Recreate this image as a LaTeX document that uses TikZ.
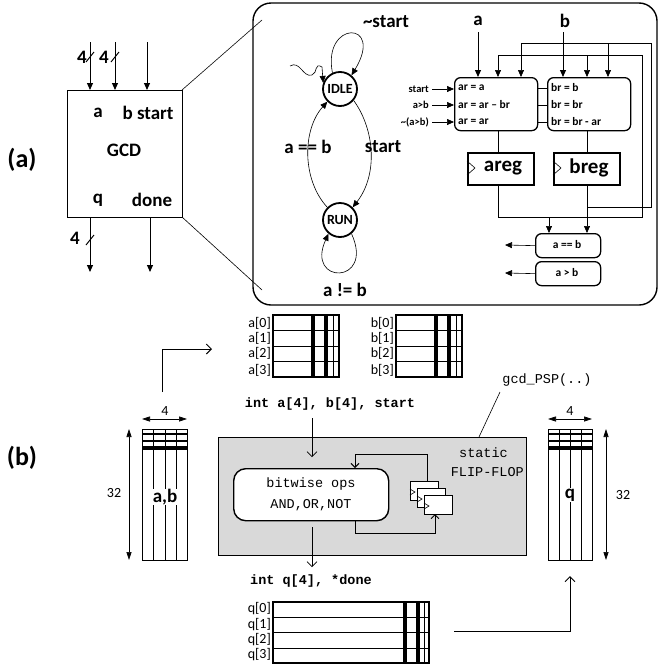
\documentclass[tikz,border=0pt]{standalone}
\usepackage{fontspec}
\setmainfont{Carlito}
\newfontfamily\codef{Liberation Mono}
\usetikzlibrary{arrows.meta}
\begin{document}
\begin{tikzpicture}[x=1pt,y=-1pt,>={Triangle[length=7pt,width=6pt]},
  lbl/.style={font=\bfseries\fontsize{19}{19}\selectfont,inner sep=0},
  sm/.style={font=\bfseries\fontsize{11.5}{12}\selectfont,inner sep=0},
  code/.style={font=\codef\bfseries\fontsize{13.5}{13.5}\selectfont,inner sep=0},
  codel/.style={font=\codef\fontsize{13.5}{13.5}\selectfont,inner sep=0},
  state/.style={circle,draw,line width=1.8pt,minimum size=34pt,inner sep=0,font=\bfseries\fontsize{14}{14}\selectfont},
  rbox/.style={draw,line width=1.3pt,rounded corners=6pt},
  thin/.style={line width=0.6pt},
  arr/.style={->,line width=1pt},
  tl/.style={font=\fontsize{14}{14}\selectfont,anchor=east,inner sep=0},
  dim/.style={font=\fontsize{14}{14}\selectfont,inner sep=0}]
\useasboundingbox (0,0) rectangle (665,667);
% ---------- (a)
\node[font=\bfseries\fontsize{26}{26}\selectfont] (la) at (22,160) {(a)};
\node[draw,line width=1pt,minimum width=115pt,minimum height=127pt,anchor=north west] (gcd) at (67,90) {};
\foreach \x/\n in {90/i1,115/i2,147/i3}{\coordinate (\n) at (\x,42); \draw[arr] (\n) -- (\x,90);}
\foreach \x in {90,115}{\draw[line width=1pt] (\x-4,62) -- (\x+4,52);}
\node[lbl] (f1) at (82,57) {4}; \node[lbl] (f2) at (104,57) {4};
\coordinate (o1) at (90,272); \coordinate (o2) at (150,272);
\draw[arr] (90,217) -- (o1); \draw[arr] (150,217) -- (o2);
\draw[line width=1pt] (86,245) -- (94,235); \node[lbl] (f3) at (75,238) {4};
\node[lbl] (ta) at (98,113) {a}; \node[lbl] (tb) at (148,113) {b start};
\node[lbl] (tg) at (124,150) {GCD}; \node[lbl] (tq) at (98,200) {q}; \node[lbl] (td) at (152,200) {done};
% zoom box
\draw[line width=1.4pt,rounded corners=18pt] (253,3) rectangle (657,305);
\draw[thin] (182,90) -- (262,20); \draw[thin] (182,217) -- (262,290);
% FSM
\node[state] (idle) at (340,89) {IDLE};
\node[state] (run) at (340,220) {RUN};
\draw[arr,thin] (idle.115) .. controls (322,20) and (385,20) .. (idle.50);
\draw[arr,thin] (run.-50) .. controls (375,285) and (305,285) .. (run.-130);
\draw[arr,thin] (idle.-40) .. controls (375,130) and (378,175) .. (run.45);
\draw[arr,thin] (run.135) .. controls (302,180) and (302,130) .. (idle.-135);
\draw[arr,thin] (290,66) .. controls (300,60) and (303,78) .. (312,75) .. controls (318,73) and (314,62) .. (322,67) -- (idle.160);
\node[lbl] (ls) at (386,22) {\textasciitilde start};
\node[lbl] (lab) at (308,147) {a == b};
\node[lbl] (lst) at (383,147) {start};
\node[lbl] (lne) at (345,290) {a != b};
% datapath
\node[rbox,minimum width=83pt,minimum height=53pt,anchor=north west] (ar) at (454,77) {};
\node[rbox,minimum width=83pt,minimum height=53pt,anchor=north west] (br) at (547,77) {};
\foreach \y/\t in {88/ar = a,105/ar = ar -- br,122/ar = ar}{\node[sm,anchor=west] at (458,\y) {\t};}
\foreach \y/\t in {88/br = b,105/br = br,122/br = br - ar}{\node[sm,anchor=west] at (551,\y) {\t};}
\foreach \y in {88,105,122}{\draw[thin] (ar.east|-0,\y) -- (br.west|-0,\y);}
\foreach \y/\t in {89/start,105/a>b,122/\textasciitilde(a>b)}{\node[sm,font=\bfseries\fontsize{10.5}{11}\selectfont,anchor=east] (in\y) at (429,\y) {\t}; \draw[arr,thin] (432,\y) -- (ar.west|-0,\y);}
\node[draw,line width=1.5pt,minimum width=66pt,minimum height=32pt,anchor=north west] (areg) at (467,152) {};
\node[draw,line width=1.5pt,minimum width=66pt,minimum height=32pt,anchor=north west] (breg) at (553,152) {};
\node[lbl,font=\bfseries\fontsize{21}{21}\selectfont] at (503,168) {areg};
\node[lbl,font=\bfseries\fontsize{21}{21}\selectfont] at (589,168) {breg};
\draw[thin] (467,161) -- (475,168) -- (467,175); \draw[thin] (553,161) -- (561,168) -- (553,175);
\draw[thin] (498,130) -- (498,152); \draw[thin] (587,130) -- (587,152);
\node[rbox,minimum width=65pt,minimum height=24pt,anchor=north west] (eq) at (535,233) {};
\node[sm] at (567,245) {a == b};
\node[rbox,minimum width=65pt,minimum height=24pt,anchor=north west] (gt) at (535,261) {};
\node[sm] at (567,273) {a > b};
\draw[arr,thin] (eq.west) -- (505,245); \draw[arr,thin] (gt.west) -- (505,273);
\node[lbl] (ina) at (478,21) {a}; \node[lbl] (inb) at (565,21) {b};
\draw[arr] (478,32) -- (478,77); \draw[arr] (563,32) -- (563,77);
% areg feedback
\draw[thin] (498,184) -- (498,217) -- (642,217) -- (642,55) -- (498,55);
\draw[arr,thin] (498,55) -- (498,77); \draw[arr,thin] (587,55) -- (587,77);
\draw[arr,thin] (549,217) -- (549,233);
% breg feedback
\draw[arr,thin] (587,184) -- (587,233);
\draw[thin] (587,207) -- (651,207) -- (651,43) -- (521,43);
\draw[arr,thin] (521,43) -- (521,77); \draw[arr,thin] (608,43) -- (608,77);
% ---------- (b)
\node[font=\bfseries\fontsize{26}{26}\selectfont] (lb) at (22,458) {(b)};
\foreach \x/\l in {273/a,396/b}{
  \draw[line width=1.4pt] (\x,315) rectangle (\x+66,377);
  \foreach \y in {330,346,361}{\draw[thin] (\x,\y) -- (\x+66,\y);}
  \draw[line width=3.5pt] (\x+40,315) -- (\x+40,377); \draw[line width=3.5pt] (\x+53,315) -- (\x+53,377);
  \draw[thin] (\x+60,315) -- (\x+60,377);
  \foreach \i/\y in {0/323,1/338,2/353,3/370}{\node[tl] at (\x-2,\y) {\l[\i]};}
}
% left column
\node[draw,line width=1.4pt,minimum width=45pt,minimum height=131pt,anchor=north west,inner sep=0] (abcol) at (142,429) {};
\foreach \x in {153,165,176}{\draw[thin] (\x,429) -- (\x,560);}
\draw[line width=2.2pt] (142,434) -- (187,434); \draw[line width=2.2pt] (142,441) -- (187,441); \draw[line width=4pt] (142,448) -- (187,448);
\node[font=\bfseries\fontsize{19}{19}\selectfont,fill=white,inner sep=0.5pt] at (165,497) {a,b};
\draw[<->,thin,>={Triangle[length=8pt,width=5pt]}] (142,419) -- (187,419); \node[dim,fill=white] at (165,411) {4};
\draw[<->,thin,>={Triangle[length=8pt,width=5pt]}] (129,429) -- (129,560); \node[dim] at (114,493) {32};
\draw[->,line width=1pt,>={Straight Barb[length=5pt]}] (162,392) -- (162,349) -- (212,349);
% right column
\node[draw,line width=1.4pt,minimum width=44pt,minimum height=131pt,anchor=north west,inner sep=0] (qcol) at (548,429) {};
\foreach \x in {559,570,581}{\draw[thin] (\x,429) -- (\x,560);}
\draw[line width=2.2pt] (548,434) -- (592,434); \draw[line width=2.2pt] (548,441) -- (592,441); \draw[line width=4pt] (548,448) -- (592,448);
\node[font=\bfseries\fontsize{19}{19}\selectfont,fill=white,inner sep=0.5pt] at (570,495) {q};
\draw[<->,thin,>={Triangle[length=8pt,width=5pt]}] (548,419) -- (592,419); \node[dim,fill=white] at (570,411) {4};
\draw[<->,thin,>={Triangle[length=8pt,width=5pt]}] (606,429) -- (606,560); \node[dim] at (623,495) {32};
% gray box
\node[draw,line width=1.2pt,fill=gray!30,minimum width=308pt,minimum height=118pt,anchor=north west] (gbox) at (218,437) {};
\node[code] (ia) at (330,404) {int a[4], b[4], start};
\draw[->,thin,>={Straight Barb[length=5pt]}] (312,418) -- (312,457);
\node[rbox,fill=white,line width=1.4pt,rounded corners=12pt,minimum width=155pt,minimum height=52pt,anchor=north west] (bw) at (233,468) {};
\node[codel] at (311,484) {bitwise ops};
\node[codel] at (311,505) {AND,OR,NOT};
\foreach \d in {0,7,14}{\draw[thin,fill=white] (410+\d,481+\d) rectangle (438+\d,500+\d); \draw[thin] (410+\d,489+\d) -- (415+\d,492+\d) -- (410+\d,495+\d);}
\draw[->,line width=1pt,>={Straight Barb[length=4pt]}] (427,481) -- (427,454) -- (355,454) -- (355,468);
\draw[->,line width=1pt,>={Straight Barb[length=4pt]}] (355,520) -- (355,533) -- (435,533) -- (435,514);
\node[codel,anchor=east] (st) at (508,453) {static};
\node[codel,anchor=east] (ff) at (524,472) {FLIP-FLOP};
\node[codel] (psp) at (547,380) {gcd\_PSP(..)};
\draw[thin] (500,392) -- (479,437);
\draw[->,thin,>={Straight Barb[length=5pt]}] (312,527) -- (312,567);
\node[code] (iq) at (311,581) {int q[4], *done};
% q table
\draw[line width=1.4pt] (273,602) rectangle (429,663);
\foreach \y in {617,632,648}{\draw[thin] (273,\y) -- (429,\y);}
\draw[line width=3.5pt] (405,602) -- (405,663); \draw[line width=3.5pt] (418,602) -- (418,663); \draw[thin] (424,602) -- (424,663);
\foreach \i/\y in {0/609,1/625,2/640,3/655}{\node[tl] at (271,\y) {q[\i]};}
\draw[->,line width=1pt,>={Straight Barb[length=5pt]}] (454,631) -- (570,631) -- (570,576);
\end{tikzpicture}
\end{document}
